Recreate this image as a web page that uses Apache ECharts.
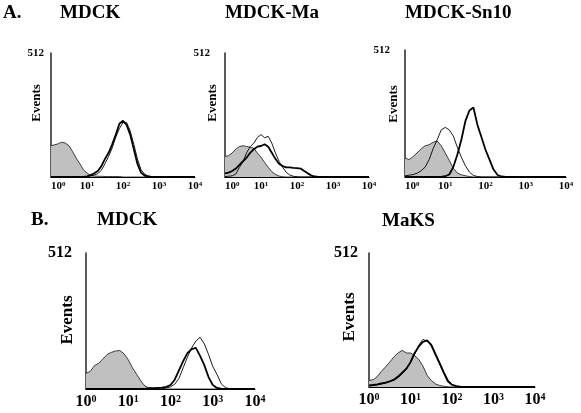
<!DOCTYPE html>
<html><head><meta charset="utf-8">
<script src="https://cdn.jsdelivr.net/npm/echarts@6/dist/echarts.min.js"></script>
<style>html,body{margin:0;padding:0;background:#fff}#c{width:581px;height:413px}</style>
</head><body><div id="c"></div>
<script>
// log10 fluorescence positions (decades)
var xs = [0,0.1,0.2,0.3,0.4,0.5,0.6,0.7,0.8,0.9,1.0,1.1,1.2,1.3,1.4,1.5,1.6,1.7,1.8,1.9,2.0,2.1,2.2,2.3,2.4,2.5,2.6,2.7,2.8,2.9,3.0,3.1,3.2,3.3,3.4,3.5,3.6,3.7,3.8,3.9,4.0];
var xTicks = [0,1,2,3,4];
var yMax = 512;
var panelTitles = ['MDCK','MDCK-Ma','MDCK-Sn10','MDCK','MaKS'];
var rowLabels = ['A.','B.'];
var yName = 'Events';

// A: MDCK
var a1Grey  = [129,133,137,144,140,129,105,78,55,30,16,7,4,3,3,2,2,2,2,2,0,0,0,0,0,0,0,0,0,0,0,0,0,0,0,0,0,0,0,0,0];
var a1Thin  = [0,0,0,0,0,0,0,0,0,0,2,4,8,14,28,55,85,120,165,200,225,225,190,135,75,30,12,4,1,0,0,0,0,0,0,0,0,0,0,0,0];
var a1Thick = [0,0,0,0,0,0,0,0,0,0,3,8,15,25,45,75,100,135,175,220,232,215,175,115,55,18,6,2,0,0,0,0,0,0,0,0,0,0,0,0,0];
// A: MDCK-Ma
var a2Grey  = [85,88,99,115,126,129,126,123,119,99,82,60,40,22,11,4,1,0,0,0,0,0,0,0,0,0,0,0,0,0,0,0,0,0,0,0,0,0,0,0,0];
var a2Thin  = [2,3,5,12,40,63,100,125,140,163,175,162,168,140,100,65,40,20,8,3,1,0,0,0,0,0,0,0,0,0,0,0,0,0,0,0,0,0,0,0,0];
var a2Thick = [15,18,25,35,50,65,80,100,115,125,128,135,125,100,75,55,45,40,40,38,37,35,25,15,6,2,0,0,0,0,0,0,0,0,0,0,0,0,0,0,0];
// A: MDCK-Sn10
var a3Grey  = [77,70,82,97,113,126,130,140,145,126,97,67,35,16,9,5,2,0,0,0,0,0,0,0,0,0,0,0,0,0,0,0,0,0,0,0,0,0,0,0,0];
var a3Thin  = [5,7,10,15,25,40,70,115,150,190,200,190,165,120,80,45,20,6,2,0,0,0,0,0,0,0,0,0,0,0,0,0,0,0,0,0,0,0,0,0,0];
var a3Thick = [0,0,0,0,0,0,0,0,0,0,3,10,40,90,150,225,268,280,210,160,110,70,30,8,2,0,0,0,0,0,0,0,0,0,0,0,0,0,0,0,0];
// B: MDCK
var b1Grey  = [59,66,88,97,113,130,138,143,145,133,110,80,55,30,10,4,2,1,0,0,0,0,0,0,0,0,0,0,0,0,0,0,0,0,0,0,0,0,0,0,0];
var b1Thin  = [0,0,0,0,0,0,0,0,0,0,0,0,0,0,0,0,0,0,0,4,8,18,40,80,120,155,180,195,170,130,85,55,20,5,1,0,0,0,0,0,0];
var b1Thick = [0,0,0,0,0,0,0,0,0,0,0,0,0,0,0,3,3,4,5,8,15,35,70,105,135,150,155,125,90,45,15,4,1,0,0,0,0,0,0,0,0];
// B: MaKS
var b2Grey  = [25,28,40,60,77,95,115,130,140,130,130,120,105,80,45,25,12,6,3,1,0,0,0,0,0,0,0,0,0,0,0,0,0,0,0,0,0,0,0,0,0];
var b2Thin  = [4,5,8,11,15,20,26,36,50,68,92,125,160,182,175,165,130,95,60,28,10,4,1,0,0,0,0,0,0,0,0,0,0,0,0,0,0,0,0,0,0];
var b2Thick = [6,8,10,14,17,22,28,40,55,70,95,130,155,172,178,160,125,90,55,22,8,3,1,0,0,0,0,0,0,0,0,0,0,0,0,0,0,0,0,0,0];

var panels = [
  {grey:a1Grey, thin:a1Thin, thick:a1Thick},
  {grey:a2Grey, thin:a2Thin, thick:a2Thick},
  {grey:a3Grey, thin:a3Thin, thick:a3Thick},
  {grey:b1Grey, thin:b1Thin, thick:b1Thick},
  {grey:b2Grey, thin:b2Thin, thick:b2Thick}
];

// layout (pixels)
var grids = [
  {left:51, top:53, width:144, height:124},
  {left:225, top:53, width:144, height:124},
  {left:405, top:50, width:161, height:127},
  {left:86, top:253, width:169, height:136},
  {left:369, top:253, width:166, height:134}
];
var small = [true,true,true,false,false];
var ymargin = [7,15,15,14,11];
var serif = '"Liberation Serif","DejaVu Serif",serif';

function pairs(arr){ return xs.map(function(x,k){ return [x, arr[k]]; }); }

var xAxes=[], yAxes=[], series=[], graphics=[];
panels.forEach(function(p,i){
  var sm = small[i];
  xAxes.push({
    gridIndex:i, type:'value', min:0, max:4, interval:1,
    axisLine:{show:true, lineStyle:{color:'#000', width:1.2}},
    axisTick:{show:false}, splitLine:{show:false},
    axisLabel:{
      customValues: xTicks,
      margin: sm?4:5,
      alignMinLabel: sm?'left':'center',
      formatter:function(v){ return '{b|10}{s|'+v+'}'; },
      rich:{
        b:{fontSize: sm?11:16, fontWeight:'bold', fontFamily:serif, color:'#000'},
        s:{fontSize: sm?7:10, fontWeight:'bold', fontFamily:serif, color:'#000', verticalAlign:'top'}
      }
    }
  });
  yAxes.push({
    gridIndex:i, type:'value', min:0, max:yMax,
    axisLine:{show:true, lineStyle:{color:'#333', width:1.6}},
    axisTick:{show:false}, splitLine:{show:false},
    axisLabel:{customValues:[yMax], margin: ymargin[i], fontSize: sm?11:16, fontWeight:'bold', fontFamily:serif, color:'#000'}
  });
  series.push({type:'line', xAxisIndex:i, yAxisIndex:i, data:pairs(p.grey), symbol:'none', silent:true,
    lineStyle:{color:'#111', width:0.8}, areaStyle:{color:'#c0c0c0', opacity:1}, z:2});
  series.push({type:'line', xAxisIndex:i, yAxisIndex:i, data:pairs(p.thin), symbol:'none', silent:true,
    lineStyle:{color:'#000', width:0.9}, z:3});
  series.push({type:'line', xAxisIndex:i, yAxisIndex:i, data:pairs(p.thick), symbol:'none', silent:true,
    lineStyle:{color:'#000', width:1.8}, z:4});
});

var evPos = [[37,103,13],[213,103,13],[394,104,13],[68,320,17],[350,317,17]];
evPos.forEach(function(e){
  graphics.push({type:'text', x:e[0], y:e[1], rotation:Math.PI/2,
    style:{text:yName, fontSize:e[2], fontWeight:'bold', fontFamily:serif, fill:'#000', align:'center', verticalAlign:'middle'}});
});

var tStyle = {fontSize:19, fontWeight:'bold', fontFamily:serif, color:'#000'};
var titles = [
  {text:rowLabels[0], left:3, top:4, textStyle:tStyle},
  {text:panelTitles[0], left:60, top:4, textStyle:tStyle},
  {text:panelTitles[1], left:225, top:4, textStyle:tStyle},
  {text:panelTitles[2], left:405, top:4, textStyle:tStyle},
  {text:rowLabels[1], left:31, top:211, textStyle:tStyle},
  {text:panelTitles[3], left:97, top:211, textStyle:tStyle},
  {text:panelTitles[4], left:382, top:212, textStyle:tStyle}
];
titles.forEach(function(t){ t.padding = 0; });

var chart = echarts.init(document.getElementById('c'), null, {renderer:'canvas'});
chart.setOption({
  animation:false,
  backgroundColor:'#fff',
  title: titles,
  grid: grids.map(function(g){ return {left:g.left, top:g.top, width:g.width, height:g.height, containLabel:false}; }),
  xAxis: xAxes, yAxis: yAxes, series: series, graphic: graphics
});
</script></body></html>
